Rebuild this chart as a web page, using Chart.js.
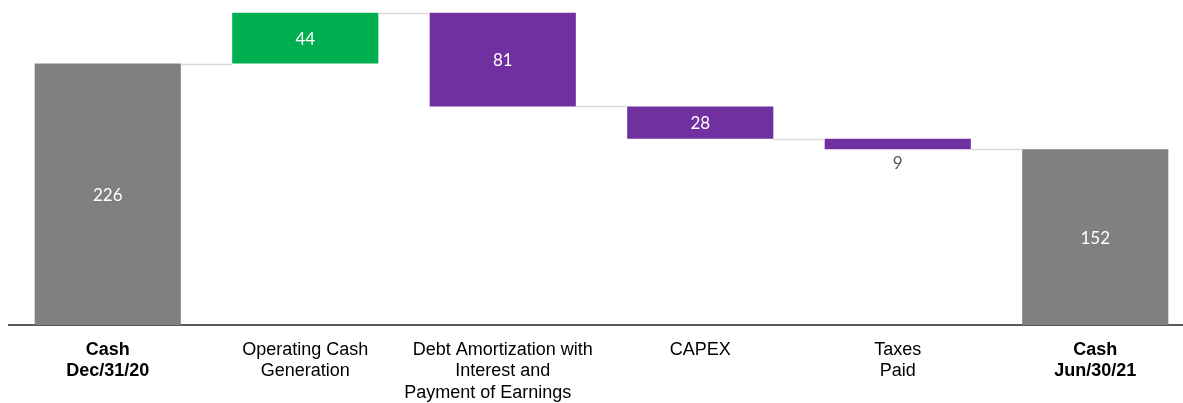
<!DOCTYPE html>
<html>
<head>
<meta charset="utf-8">
<script src="https://cdn.jsdelivr.net/npm/chart.js@4.4.1/dist/chart.umd.min.js"></script>
<style>
  html, body { margin: 0; padding: 0; background: #fff; overflow: hidden; }
  #wrap { width: 1194px; height: 403px; }
</style>
</head>
<body>
<div id="wrap"><canvas id="chart"></canvas></div>
<script>
// カテゴリと値.
const Categories = [
  ['Cash', 'Dec/31/20'],
  ['Operating Cash', 'Generation'],
  ['Debt Amortization with', 'Interest and', 'Payment of Earnings      '],
  ['CAPEX'],
  ['Taxes', 'Paid'],
  ['Cash', 'Jun/30/21']
];
const Values = [226, 44, -81, -28, -9, 152];
const IsTotal = [true, false, false, false, false, true];
const LabelBelow = [false, false, false, false, true, false];

const ColorTotal = '#808080';
const ColorUp = '#00b050';
const ColorDown = '#7030a0';

// 浮動バーの範囲を作る.
let running = 0;
const ranges = Values.map(function(v, i) {
  if (IsTotal[i]) {
    running = v;
    return [0, v];
  }
  const start = running;
  running += v;
  return [Math.min(start, running), Math.max(start, running)];
});
const levels = ranges.map(function(r, i) {
  return IsTotal[i] ? r[1] : (Values[i] >= 0 ? r[1] : r[0]);
});
const colors = Values.map(function(v, i) {
  return IsTotal[i] ? ColorTotal : (v >= 0 ? ColorUp : ColorDown);
});

// ラベルとコネクタ線.
const waterfallPlugin = {
  id: 'waterfall',
  afterDatasetsDraw: function(chart) {
    const ctx = chart.ctx;
    const meta = chart.getDatasetMeta(0);
    const y = chart.scales.y;
    ctx.save();
    // コネクタ.
    ctx.strokeStyle = '#d9d9d9';
    ctx.lineWidth = 1.5;
    for (let i = 0; i < meta.data.length - 1; i++) {
      const a = meta.data[i], b = meta.data[i + 1];
      const py = Math.round(y.getPixelForValue(levels[i])) + 0.5;
      ctx.beginPath();
      ctx.moveTo(a.x + a.width / 2, py);
      ctx.lineTo(b.x - b.width / 2, py);
      ctx.stroke();
    }
    // 値ラベル.
    ctx.font = '17px Lato';
    ctx.textAlign = 'center';
    ctx.textBaseline = 'middle';
    meta.data.forEach(function(bar, i) {
      const txt = String(Math.abs(Values[i]));
      const top = y.getPixelForValue(ranges[i][1]);
      const bot = y.getPixelForValue(ranges[i][0]);
      if (LabelBelow[i]) {
        ctx.fillStyle = '#595959';
        ctx.fillText(txt, bar.x, bot + 14);
      } else {
        ctx.fillStyle = '#ffffff';
        ctx.fillText(txt, bar.x, (top + bot) / 2 + 1);
      }
    });
    ctx.restore();
  }
};

new Chart(document.getElementById('chart'), {
  type: 'bar',
  data: {
    labels: Categories,
    datasets: [{
      data: ranges,
      backgroundColor: colors,
      borderWidth: 0,
      categoryPercentage: 1.0,
      barPercentage: 0.74,
    }]
  },
  options: {
    responsive: true,
    maintainAspectRatio: false,
    animation: false,
    layout: { padding: { left: 9, right: 0, top: 0, bottom: 0 } },
    plugins: {
      legend: { display: false },
      tooltip: { enabled: false },
    },
    scales: {
      x: {
        grid: { display: false },
        border: { display: true, color: '#595959', width: 2 },
        afterFit: function(scale) { scale.height = 78; },
        ticks: {
          padding: 6,
          maxRotation: 0,
          autoSkip: false,
          color: '#000000',
          font: function(c) {
            const bold = IsTotal[c.index];
            return { family: 'Liberation Sans', size: 18, weight: bold ? 'bold' : 'normal', lineHeight: 1.2 };
          }
        }
      },
      y: {
        display: false,
        min: 0,
        max: 281,
      }
    }
  },
  plugins: [waterfallPlugin]
});
</script>
</body>
</html>
